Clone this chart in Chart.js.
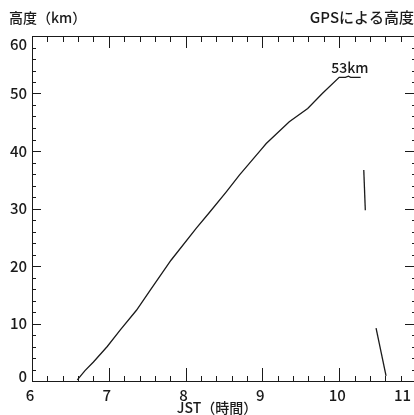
<!DOCTYPE html>
<html>
<head>
<meta charset="utf-8">
<script src="https://cdn.jsdelivr.net/npm/chart.js@4/dist/chart.umd.min.js"></script>
<style>
	html, body { margin: 0; padding: 0; background: #fff; overflow: hidden; }
	#wrap { width: 440px; height: 415px; }
</style>
</head>
<body>
<div id="wrap"><canvas id="gpsChart" width="440" height="415"></canvas></div>
<script>
// Main ascent track (hours JST, km)
const ascentHours = [6.59, 6.69, 6.80, 6.98, 7.15, 7.36, 7.54, 7.81, 8.14, 8.31, 8.53, 8.70, 8.98, 9.05, 9.35, 9.59, 9.78, 10.00, 10.08, 10.12, 10.15, 10.28];
const ascentKm = [0.2, 1.8, 3.3, 6.0, 8.9, 12.3, 15.8, 21.0, 26.6, 29.3, 32.9, 35.8, 40.2, 41.3, 45.1, 47.4, 50.0, 52.8, 52.8, 53.0, 52.8, 52.8];

// Short pieces after the burst
const fallHoursA = [10.32, 10.34];
const fallKmA = [36.7, 29.7];
const fallHoursB = [10.48, 10.61];
const fallKmB = [9.2, 0.9];

const xTickLabels = ['6', '7', '8', '9', '10', '11'];
const yTickLabels = ['0', '10', '20', '30', '40', '50', '60'];

const FONT = '"Noto Sans CJK JP", "Noto Sans", sans-serif';
const INK = '#1a1a1a';
const PAGE_W = 414;

function toPoints(xs, ys) {
	return xs.map((x, i) => ({ x: x, y: ys[i] }));
}

function lineSet(xs, ys) {
	return {
		data: toPoints(xs, ys),
		showLine: true,
		borderColor: INK,
		borderWidth: 1.3,
		pointRadius: 0,
		tension: 0
	};
}

// Inward ticks on all four sides + text labels
const framePlugin = {
	id: 'frame',
	afterDraw(chart) {
		const ctx = chart.ctx;
		const { left, right, top, bottom } = chart.chartArea;
		const xs = chart.scales.x;
		const ys = chart.scales.y;
		const snap = v => Math.round(v) + 0.5;

		ctx.save();
		ctx.strokeStyle = INK;
		ctx.lineWidth = 1;

		// top and right border
		ctx.beginPath();
		ctx.moveTo(snap(left), snap(top));
		ctx.lineTo(snap(right), snap(top));
		ctx.lineTo(snap(right), snap(bottom));
		ctx.stroke();

		ctx.beginPath();
		for (let i = 0; i <= 25; i++) {
			const v = 6 + i * 0.2;
			const px = snap(xs.getPixelForValue(v));
			const major = i % 5 === 0;
			ctx.moveTo(px, bottom);
			ctx.lineTo(px, bottom - (major ? 13 : 5));
			ctx.moveTo(px, top);
			ctx.lineTo(px, top + (major ? 12 : 6));
		}
		for (let i = 0; i <= 30; i++) {
			const v = i * 2;
			const py = snap(ys.getPixelForValue(v));
			const major = i % 5 === 0;
			ctx.moveTo(left, py);
			ctx.lineTo(left + (major ? 9 : 4), py);
			ctx.moveTo(right, py);
			ctx.lineTo(right - (major ? 11 : 4), py);
		}
		ctx.stroke();

		ctx.fillStyle = INK;
		ctx.font = '500 15px ' + FONT;
		ctx.textBaseline = 'middle';

		// x tick labels, last one kept inside the page
		ctx.textAlign = 'center';
		xTickLabels.forEach(t => {
			const w = ctx.measureText(t).width;
			const px = Math.min(xs.getPixelForValue(Number(t)), PAGE_W - 1 - w / 2);
			ctx.fillText(t, px - 2, bottom + 14);
		});

		// y tick labels, end ones pulled inside the frame height
		ctx.textAlign = 'right';
		yTickLabels.forEach(t => {
			const py = Math.min(Math.max(ys.getPixelForValue(Number(t)), top + 8), bottom - 5);
			ctx.fillText(t, left - 5, py);
		});

		ctx.textBaseline = 'alphabetic';
		ctx.font = '500 14px ' + FONT;
		ctx.textAlign = 'left';
		ctx.fillText('高度（km）', 9, 23);
		ctx.textAlign = 'right';
		ctx.font = '500 15px ' + FONT;
		ctx.fillText('GPSによる高度', PAGE_W, 23);
		ctx.textAlign = 'center';
		ctx.font = '500 14px ' + FONT;
		ctx.fillText('JST（時間）', 217, 413);
		ctx.fillText('53km', xs.getPixelForValue(10.14), ys.getPixelForValue(53.6));
		ctx.restore();
	}
};

new Chart(document.getElementById('gpsChart'), {
	type: 'scatter',
	data: {
		datasets: [
			lineSet(ascentHours, ascentKm),
			lineSet(fallHoursA, fallKmA),
			lineSet(fallHoursB, fallKmB)
		]
	},
	options: {
		responsive: false,
		animation: false,
		devicePixelRatio: 1,
		layout: { padding: { left: 0, top: 36, right: 24, bottom: 0 } },
		plugins: {
			legend: { display: false },
			tooltip: { enabled: false }
		},
		scales: {
			x: {
				type: 'linear',
				min: 6,
				max: 11,
				afterFit: scale => { scale.height = 34; },
				afterBuildTicks: scale => {
					scale.ticks = xTickLabels.map(t => ({ value: Number(t) }));
				},
				grid: { display: false, drawTicks: false },
				border: { display: true, color: INK, width: 1 },
				ticks: { display: false }
			},
			y: {
				type: 'linear',
				min: 0,
				max: 60,
				afterFit: scale => { scale.width = 32; },
				afterBuildTicks: scale => {
					scale.ticks = yTickLabels.map(t => ({ value: Number(t) }));
				},
				grid: { display: false, drawTicks: false },
				border: { display: true, color: INK, width: 1 },
				ticks: { display: false }
			}
		}
	},
	plugins: [framePlugin]
});
</script>
</body>
</html>
